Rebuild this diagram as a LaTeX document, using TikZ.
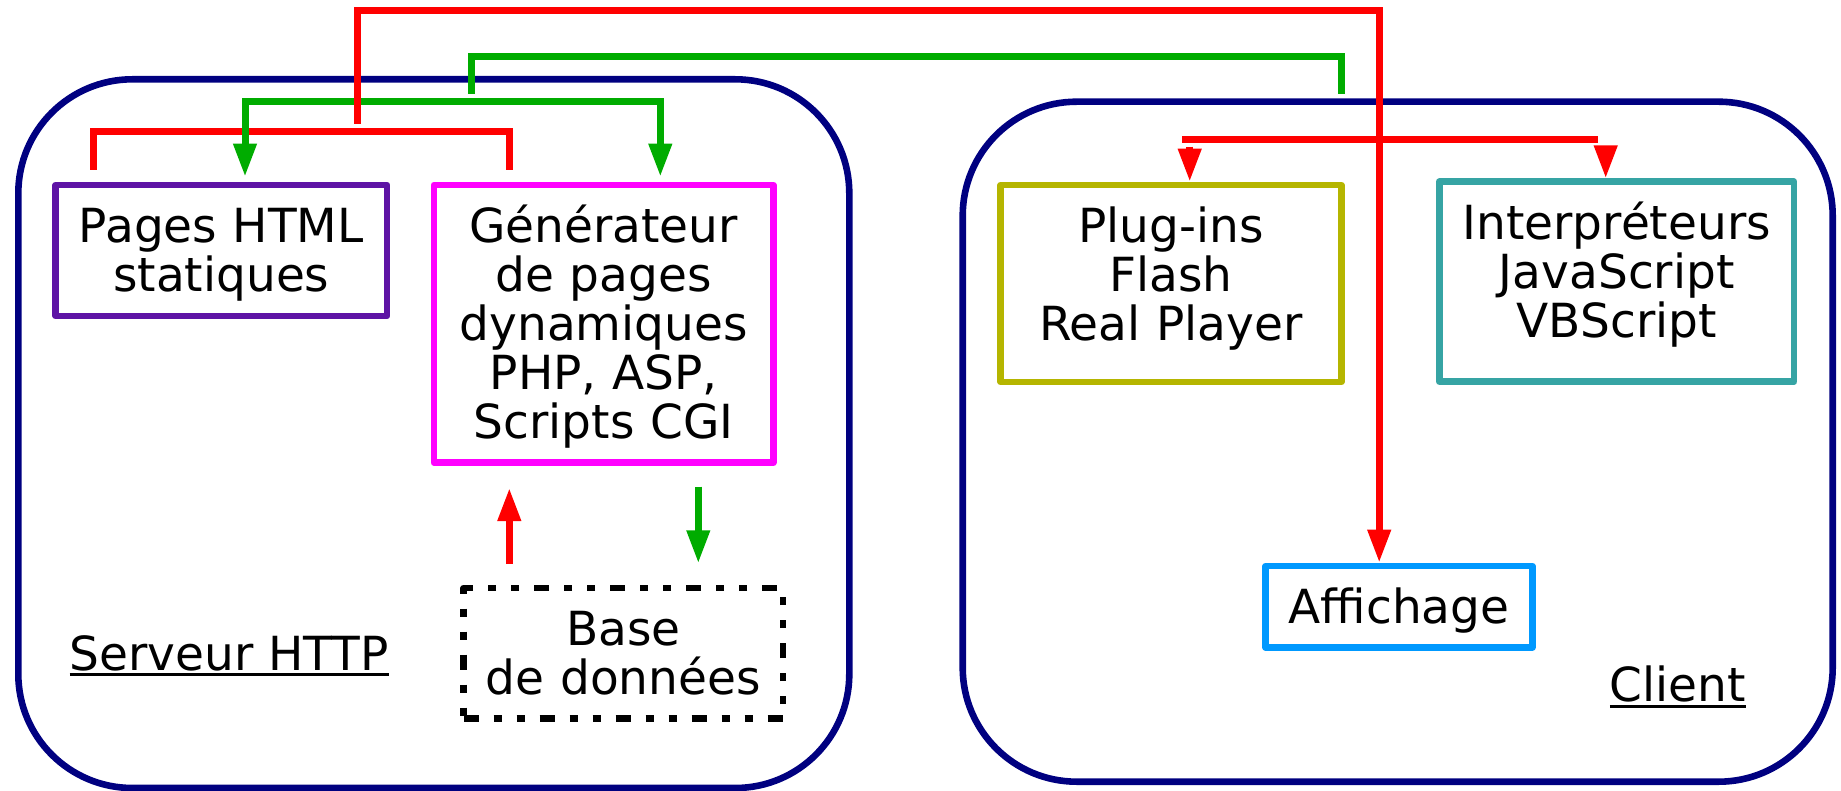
\documentclass[tikz,border=0pt]{standalone}
\usepackage{fontspec}
\setmainfont{DejaVu Sans}
\usepackage{tikz}
\usetikzlibrary{positioning}
\usetikzlibrary{arrows.meta}
\definecolor{cmarine}{RGB}{0,0,128}
\definecolor{cpages}{RGB}{94,20,165}
\definecolor{cgen}{RGB}{255,0,255}
\definecolor{cplug}{RGB}{181,181,0}
\definecolor{cinterp}{RGB}{54,164,164}
\definecolor{caffich}{RGB}{0,153,255}
\definecolor{cvert}{RGB}{0,172,0}
\newcommand{\souligne}[1]{\setbox0=\hbox{#1}\rlap{\rule[-3pt]{\wd0}{1.35pt}}\box0}
\tikzset{every node/.style={font=\fontsize{23.5}{24.5}\selectfont}, % Text size of the whole drawing
zone/.style={ % Sets the properties for the server and client frames
draw=cmarine,
line width=3.3pt,
rounded corners=57pt},
boite/.style={ % Sets the properties for each box
draw=#1,
line width=3.3pt,
line join=round,
inner sep=0pt,
align=center,
anchor=north,
text height=28.75pt}, % First line always at the same place under the top
fleche/.style={ % Sets the properties for each connector
draw=#1,
line width=3.5pt,
>={Triangle[length=16.5pt,width=11pt]}}}

\begin{document}
\begin{tikzpicture}[x=0.5pt, y=-0.5pt] % One unit is one pixel, y going down
                \useasboundingbox (0,0) rectangle (1841,791);
                \node[zone, minimum width=415.5pt, minimum height=354.35pt] (serveur) at (433.8,433.65) {};
                \node[zone, minimum width=435pt, minimum height=340pt] (client) at (1397.7,441.7) {};
                \node[anchor=base] (serveurlbl) at (229.3,670) {\souligne{Serveur HTTP}};
                \node[anchor=base] (clientlbl) at (1678,701.7) {\souligne{Client}};

                \node[boite=cpages, text width=165.65pt, text depth=36.75pt] (pages) at (221.35,181.7) {Pages HTML\\statiques};
                \node[boite=cgen, text width=169.65pt, text depth=110.1pt, right=20.2pt of pages.north east, anchor=north west] (gen) {Générateur\\de pages\\dynamiques\\PHP, ASP,\\Scripts CGI};
                \node[boite=black, dash pattern=on 7.5pt off 7.5pt on 4pt off 7.5pt on 4pt off 7.5pt, text width=159.65pt, text depth=36.6pt] (base) at (623.35,584.7) {Base\\de données};
                \node[boite=cplug, text width=170.3pt, text depth=69.75pt] (plug) at (1171,181.7) {Plug-ins\\Flash\\Real Player};
                \node[boite=cinterp, text width=177.35pt, text depth=71.25pt] (interp) at (1616.65,178.4) {Interpréteurs\\JavaScript\\VBScript};
                \node[boite=caffich, text width=133.3pt, text depth=11.9pt] (affich) at (1399,562.7) {Affichage};

                % server side
                \coordinate (rp) at (93,170);
                \coordinate (rg) at (509.3,170);
                \draw[fleche=red] (rp) -- ++(0,-38) -| (rg);
                \coordinate (ga) at (245,102);
                \coordinate (gb) at (660.3,102);
                \draw[fleche=cvert, <->, shorten <=2.5pt, shorten >=2.5pt] (ga |- pages.north) -- (ga) -- (gb) -- (gb |- gen.north);
                \coordinate (gs) at (471,94);
                \coordinate (gc) at (1341,94);
                \draw[fleche=cvert] (gs) -- ++(0,-37) -| (gc);
                \coordinate (rs) at (357.7,124);
                \coordinate (rc) at (1379.2,11);
                \draw[fleche=red, ->] (rs) |- (rc) -- (rc |- affich.north);

                % client side
                \coordinate (ca) at (1182,139.7);
                \coordinate (cb) at (1597.7,139.7);
                \draw[fleche=red] (ca) -- (cb);
                \coordinate (pa) at (1189.7,146.7);
                \coordinate (pb) at (1605.7,146.7);
                \draw[fleche=red, ->] (pa) -- (pa |- plug.north);
                \draw[fleche=red, ->] (pb) -- (pb |- interp.north);

                % database
                \coordinate (gd) at (698.3,0);
                \draw[fleche=red, ->, shorten <=10.35pt, shorten >=11pt] (rg |- base.north) -- (rg |- gen.south);
                \draw[fleche=cvert, ->, shorten <=10.35pt, shorten >=10.7pt] (gd |- gen.south) -- (gd |- base.north);
            \end{tikzpicture}
\end{document}
